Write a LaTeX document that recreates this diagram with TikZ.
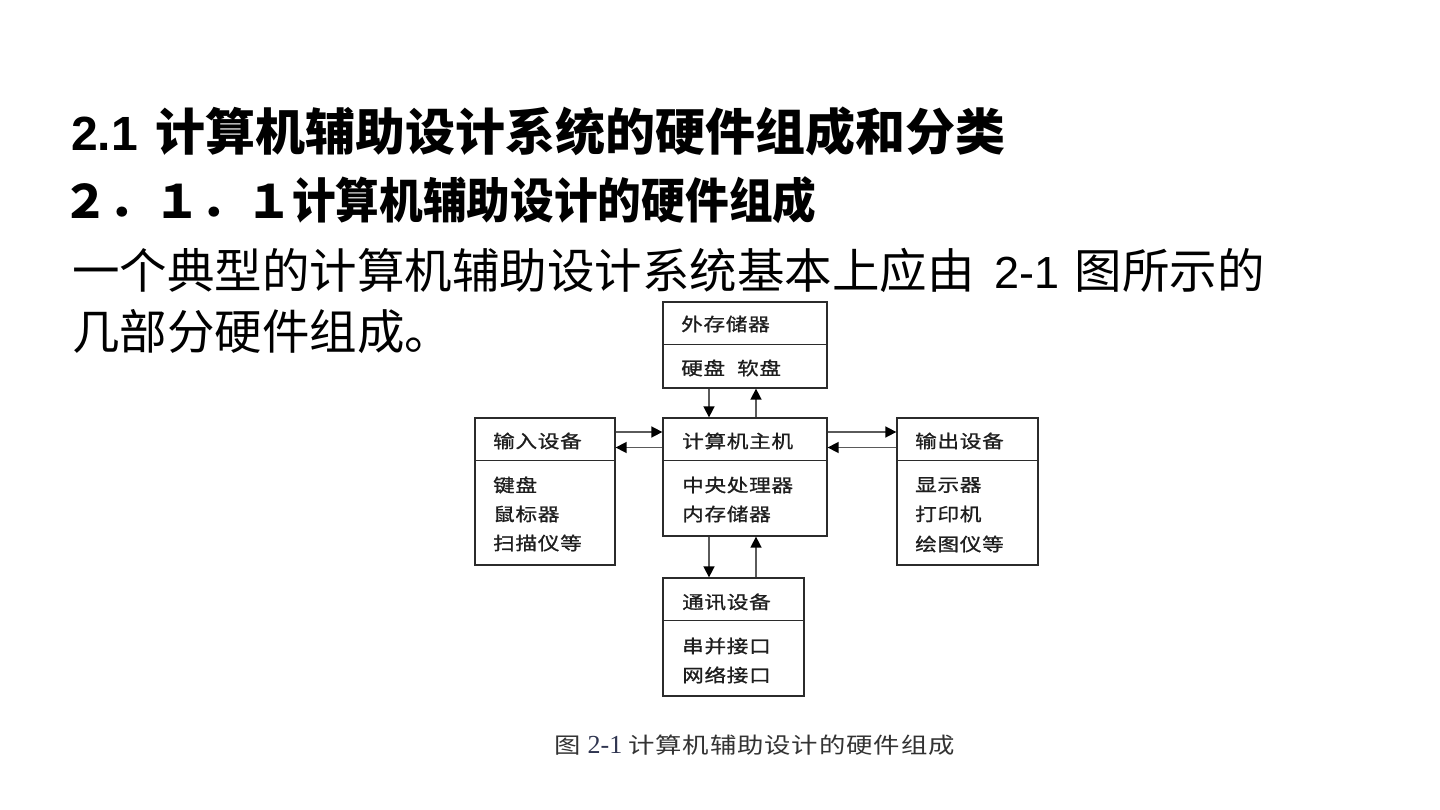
\documentclass[tikz,border=0pt]{standalone}
\usepackage{fontspec}
\setmainfont{Liberation Sans}
\newfontfamily\cjk{Noto Sans CJK SC}
\newfontfamily\cjksub{Noto Sans CJK SC}[FakeStretch=0.91]
\newfontfamily\cjkdiag{Noto Sans CJK SC}[FakeStretch=1.2, LetterSpace=4, FakeBold=1]
\newfontfamily\capls{Noto Sans CJK SC}[FakeStretch=1.2, LetterSpace=4]
\newfontfamily\capserif{Liberation Serif}
\usetikzlibrary{arrows.meta}
\definecolor{linec}{HTML}{2B2B2B}
\definecolor{shaftc}{HTML}{5A5A5A}
\definecolor{txtc}{HTML}{1E1E1E}
\definecolor{capc}{HTML}{333333}
\definecolor{numc}{HTML}{2F3550}
\tikzset{
  box/.style={draw=linec, line width=1.3pt, inner sep=0pt},
  divline/.style={draw=linec, line width=1.3pt},
  lbl/.style={anchor=west, inner sep=0pt, text=txtc, font=\cjkdiag\fontsize{18}{22}\selectfont},
  arr/.style={draw=shaftc, line width=1.6pt, -{Triangle[length=11pt,width=11pt,color=black]}},
  big/.style={anchor=base west, inner sep=0pt, text=black},
  captext/.style={anchor=west, inner sep=0pt, text=capc, font=\capls\fontsize{22}{26}\selectfont}
}
\begin{document}
\begin{tikzpicture}[x=1pt,y=-1pt]
\fill[white] (0,0) rectangle (1440,810);
\useasboundingbox (0,0) rectangle (1440,810);

% headings and body text
\node[big] (h1) at (71,151) {\fontsize{48}{56}\selectfont\bfseries 2.1\hspace{18pt}{\cjk\fontsize{50}{56}\selectfont\bfseries 计算机辅助设计系统的硬件组成和分类}};
\node[big] (h2) at (62,219) {{\cjk\bfseries\fontsize{46}{54}\selectfont ２．１．１}{\cjksub\bfseries\fontsize{48}{54}\selectfont 计算机辅助设计的硬件组成}};
\node[big] (p1) at (72,289) {{\cjk\fontsize{47.5}{56}\selectfont 一个典型的计算机辅助设计系统基本上应由}\hspace{20pt}{\fontsize{45}{54}\selectfont 2-1}\hspace{15pt}{\cjk\fontsize{47.5}{56}\selectfont 图所示的}};
\node[big] (p2) at (72,349) {{\cjk\fontsize{47.5}{56}\selectfont 几部分硬件组成。}};

% boxes
\node[box, minimum width=164pt, minimum height=86pt] (ext) at (745,345) {};
\node[box, minimum width=140pt, minimum height=147pt] (inp) at (545,491.5) {};
\node[box, minimum width=164pt, minimum height=118pt] (host) at (745,477) {};
\node[box, minimum width=141pt, minimum height=147pt] (outd) at (967.5,491.5) {};
\node[box, minimum width=141pt, minimum height=118pt] (com) at (733.5,637) {};

% dividers
\foreach \b in {ext,inp,host,outd,com}{
  \draw[divline] ([yshift=-43pt]\b.north west) -- ([yshift=-43pt]\b.north east);
}

% labels
\node[lbl] (extA) at (681,324) {外存储器};
\node[lbl] (extB) at (681,368) {硬盘\hspace{12pt}软盘};
\node[lbl] (inpA) at (493,441) {输入设备};
\node[lbl] (inpB) at (493,485) {键盘};
\node[lbl] (inpC) at (493,514) {鼠标器};
\node[lbl] (inpD) at (493,543) {扫描仪等};
\node[lbl] (hostA) at (682,441) {计算机主机};
\node[lbl] (hostB) at (682,485) {中央处理器};
\node[lbl] (hostC) at (682,514) {内存储器};
\node[lbl] (outA) at (915,441) {输出设备};
\node[lbl] (outB) at (915,485) {显示器};
\node[lbl] (outC) at (915,514) {打印机};
\node[lbl] (outD) at (915,544) {绘图仪等};
\node[lbl] (comA) at (682,602) {通讯设备};
\node[lbl] (comB) at (682,646) {串并接口};
\node[lbl] (comC) at (682,675) {网络接口};

% arrow guide coordinates
\coordinate (xa) at (709,0);
\coordinate (xb) at (756,0);
\coordinate (ya) at (0,432);
\coordinate (yb) at (0,447.5);

% connectors
\draw[arr] (ext.south -| xa) -- (host.north -| xa);
\draw[arr] (host.north -| xb) -- (ext.south -| xb);
\draw[arr] (inp.east |- ya) -- (host.west |- ya);
\draw[arr] (host.west |- yb) -- (inp.east |- yb);
\draw[arr] (host.east |- ya) -- (outd.west |- ya);
\draw[arr] (outd.west |- yb) -- (host.east |- yb);
\draw[arr] (host.south -| xa) -- (com.north -| xa);
\draw[arr] (com.north -| xb) -- (host.south -| xb);

% caption
\node[captext] (caption) at (554,745) {图\hspace{7pt}{\capserif\color{numc}\fontsize{26}{30}\selectfont 2-1}\hspace{6pt}计算机辅助设计的硬件组成};
\end{tikzpicture}
\end{document}
